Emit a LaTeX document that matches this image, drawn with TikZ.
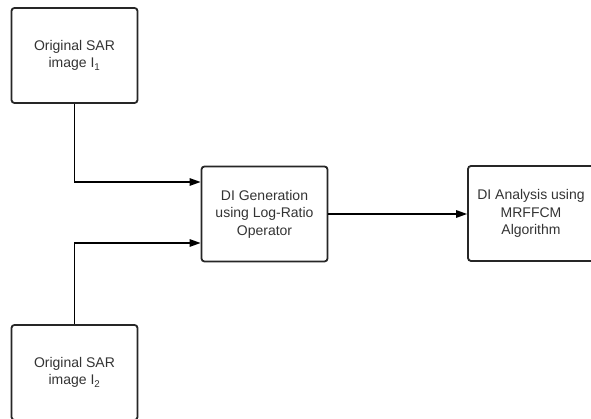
\documentclass[tikz,border=0pt]{standalone}
\usepackage{fontspec}
\setmainfont{Liberation Sans}
\usetikzlibrary{arrows.meta}
\begin{document}
\begin{tikzpicture}[x=1pt,y=1pt,
  blk/.style={draw=black!85, line width=1.8pt, rounded corners=3pt, minimum width=126pt, minimum height=95pt, align=center, font=\fontsize{14}{17.5}\selectfont, text=black!80, inner sep=0pt},
  conn/.style={draw=black, line width=1.4pt},
  arr/.style={conn, -{Triangle[length=11pt,width=7.5pt]}}]
\useasboundingbox (0,0) rectangle (591,419);
\clip (0,0) rectangle (591,419);
\node[blk] (s1) at (74.5,363.5) {Original SAR\\image I\textsubscript{1}};
\node[blk] (s2) at (74.5,46.5) {Original SAR\\image I\textsubscript{2}};
\node[blk] (gen) at (264.5,205) {DI Generation\\using Log-Ratio\\Operator};
\node[blk] (ana) at (531,205.5) {DI Analysis using\\MRFFCM\\Algorithm};
\coordinate (g1) at (gen.west |- 0,237);
\coordinate (g2) at (gen.west |- 0,176);
\draw[arr] (s1.south) |- (g1);
\draw[arr] (s2.north) |- (g2);
\draw[arr] (gen.east |- 0,205) -- (ana.west |- 0,205);
\end{tikzpicture}
\end{document}
